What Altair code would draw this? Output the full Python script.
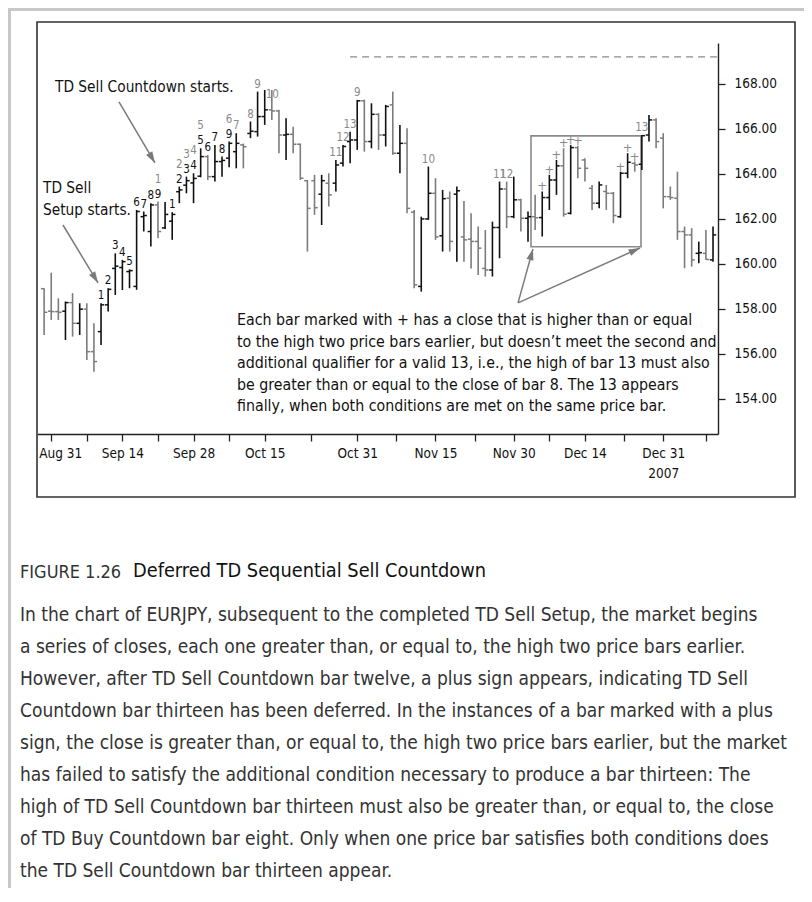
import math
import altair as alt
import pandas as pd

FONT = "Liberation Sans Narrow, Arial Narrow, DejaVu Sans Condensed, sans-serif"

# ---------------- data (EURJPY daily bars, index 0 = Aug 30 2007) ----------------
opens = [158.90, 157.90, 157.88, 157.90, 158.28, 157.36, 157.99, 156.10, 156.99, 158.18,
         159.80, 159.84, 159.66, 159.00, 162.10, 161.44, 162.62, 161.60, 161.90, 163.21,
         163.50, 163.60, 163.90, 164.77, 163.88, 164.55, 164.70, 164.99, 165.29, 165.80,
         165.88, 166.55, 166.85, 166.80, 165.73, 165.76, 165.32, 163.70, 163.70, 163.10,
         163.59, 163.59, 164.48, 165.44, 165.51, 167.25, 165.44, 166.65, 165.73, 167.07,
         164.92, 165.36, 162.30, 159.00, 162.00, 163.14, 161.25, 162.92, 163.10, 161.20,
         161.10, 161.00, 159.80, 159.73, 161.62, 163.33, 162.10, 162.85, 162.03, 162.10,
         162.06, 162.95, 163.73, 164.36, 162.25, 165.17, 164.62, 163.36, 162.70, 163.22,
         163.14, 162.10, 164.03, 164.47, 164.43, 165.73, 166.40, 165.59, 162.99, 162.92,
         161.44, 161.29, 160.47, 160.47, 160.18]
highs = [158.92, 159.61, 158.47, 158.33, 158.70, 158.25, 158.25, 157.36, 158.25, 158.92,
         160.47, 160.18, 159.76, 162.40, 162.33, 162.70, 162.77, 162.75, 162.30, 163.44,
         163.88, 164.03, 165.14, 164.84, 165.29, 164.77, 165.44, 165.81, 165.35, 166.33,
         167.66, 167.73, 167.73, 166.85, 166.47, 166.10, 165.35, 163.73, 163.96, 163.96,
         164.03, 164.62, 165.29, 165.88, 167.29, 167.30, 167.14, 166.70, 167.07, 167.66,
         166.18, 166.03, 162.40, 162.10, 164.33, 163.81, 163.29, 163.22, 163.44, 162.80,
         162.25, 161.66, 161.51, 161.88, 163.66, 163.66, 163.88, 162.90, 162.33, 163.07,
         163.22, 163.96, 164.62, 165.14, 165.29, 165.25, 164.70, 163.51, 163.66, 163.51,
         163.20, 164.10, 164.92, 164.55, 165.73, 166.62, 166.47, 165.81, 163.44, 164.10,
         161.66, 161.59, 160.99, 161.51, 161.66]
lows = [156.84, 157.51, 157.51, 156.62, 156.77, 156.84, 155.73, 155.21, 156.40, 157.88,
        158.62, 158.84, 158.92, 158.85, 161.44, 160.77, 161.14, 161.55, 161.07, 162.70,
        163.14, 162.70, 163.85, 163.73, 163.66, 163.88, 164.30, 164.25, 164.25, 165.59,
        165.66, 166.18, 166.40, 164.92, 164.62, 164.92, 163.73, 160.55, 162.18, 161.73,
        162.55, 163.22, 164.33, 164.47, 165.07, 164.99, 165.14, 165.07, 165.22, 164.85,
        164.03, 162.25, 158.92, 158.77, 161.96, 161.07, 160.55, 160.55, 160.10, 160.10,
        159.80, 159.51, 159.44, 159.44, 160.25, 161.59, 162.03, 161.44, 160.99, 161.51,
        161.22, 162.40, 163.07, 162.10, 162.20, 163.81, 163.66, 162.40, 162.47, 162.40,
        161.81, 162.05, 163.81, 164.10, 164.18, 165.44, 165.14, 162.47, 162.85, 161.07,
        159.81, 159.88, 160.03, 160.18, 160.10]
closes = [157.85, 157.88, 157.85, 158.28, 157.36, 157.99, 156.10, 155.66, 158.18, 158.87,
          159.90, 160.10, 159.70, 162.33, 162.15, 162.62, 161.44, 162.20, 162.20, 163.29,
          163.70, 163.80, 164.77, 163.88, 164.55, 164.60, 165.36, 165.36, 165.21, 165.90,
          166.55, 166.85, 166.80, 165.73, 165.76, 165.32, 163.81, 162.47, 162.50, 163.70,
          163.07, 164.40, 165.22, 165.51, 167.25, 165.44, 166.65, 165.73, 167.00, 164.92,
          165.36, 162.47, 159.07, 162.00, 163.14, 161.20, 162.90, 161.00, 163.25, 161.07,
          161.00, 160.70, 159.73, 161.62, 163.33, 162.10, 162.85, 162.03, 162.10, 162.05,
          162.95, 163.73, 164.36, 162.21, 165.17, 164.25, 164.25, 162.70, 163.51, 163.14,
          162.15, 164.03, 164.52, 164.40, 165.70, 166.40, 165.44, 162.99, 162.95, 161.44,
          161.29, 160.18, 160.50, 160.20, 161.29]

# x-axis ticks (bar index) and their labels ("" = minor tick)
tick_idx = [1, 6, 11, 16, 21, 26, 31, 37.5, 44, 49.5, 55, 60.5, 66, 71, 76, 81.5, 87, 93]
tick_lbl = ["Aug 31", "", "Sep 14", "", "Sep 28", "", "Oct 15", "", "Oct 31", "",
            "Nov 15", "", "Nov 30", "", "Dec 14", "", "Dec 31|2007", ""]
y_ticks = [154, 156, 158, 160, 162, 164, 166, 168]

# TD Sell Setup counts (black)
setup_idx = [8, 9, 10, 11, 12, 13, 14, 15, 16, 18, 19, 20, 21, 22, 23, 24, 25, 26]
setup_txt = ["1", "2", "3", "4", "5", "6", "7", "8", "9",
             "1", "2", "3", "4", "5", "6", "7", "8", "9"]
# TD Sell Countdown counts (grey); level 1 = stacked above a setup number, 2 = beside the high
cd_idx = [16, 19, 20, 21, 22, 26, 27, 29, 30, 31, 41, 42, 43, 44, 54, 64, 65, 84]
cd_txt = ["1", "2", "3", "4", "5", "6", "7", "8", "9", "10",
          "11", "12", "13", "9", "10", "11", "12", "13"]
cd_level = [1, 1, 1, 1, 1, 1, 0, 0, 0, 2, 0, 0, 0, 0, 0, 0, 0, 0]
# deferred-13 bars (+)
plus_idx = [70, 71, 72, 73, 74, 75, 81, 82, 83]

# annotations in data units (bar index, price)
note_texts = [("TD Sell Countdown starts.", 1.53, 167.87),
              ("TD Sell", -0.16, 163.38),
              ("Setup starts.", -0.16, 162.40)]
arrows = [(10.52, 167.20, 15.58, 164.49),
          (2.65, 161.73, 7.57, 159.16),
          (66.6, 158.27, 68.7, 160.67),
          (66.6, 158.27, 83.74, 160.71)]
box = (68.42, 83.88, 160.76, 165.69)
dash_line = (43.0, 94.7, 169.2)
para_lines = ["Each bar marked with + has a close that is higher than or equal",
              "to the high two price bars earlier, but doesn\u2019t meet the second and",
              "additional qualifier for a valid 13, i.e., the high of bar 13 must also",
              "be greater than or equal to the close of bar 8. The 13 appears",
              "finally, when both conditions are met on the same price bar."]
para_x = 27.1
para_y = [157.51, 156.53, 155.60, 154.62, 153.69]

caption_lines = [
    "In the chart of EURJPY, subsequent to the completed TD Sell Setup, the market begins",
    "a series of closes, each one greater than, or equal to, the high two price bars earlier.",
    "However, after TD Sell Countdown bar twelve, a plus sign appears, indicating TD Sell",
    "Countdown bar thirteen has been deferred. In the instances of a bar marked with a plus",
    "sign, the close is greater than, or equal to, the high two price bars earlier, but the market",
    "has failed to satisfy the additional condition necessary to produce a bar thirteen: The",
    "high of TD Sell Countdown bar thirteen must also be greater than, or equal to, the close",
    "of TD Buy Countdown bar eight. Only when one price bar satisfies both conditions does",
    "the TD Sell Countdown bar thirteen appear.",
]

# ---------------- geometry ----------------
W, H = 681, 391
XDOM = [-1.0, 94.7]
YDOM = [152.44, 169.82]
SX = W / (XDOM[1] - XDOM[0])
SY = H / (YDOM[1] - YDOM[0])

parts = []
for v, t in zip(tick_idx, tick_lbl):
    if t:
        if "|" in t:
            a, b = t.split("|")
            parts.append(f"datum.value == {v} ? ['{a}', '{b}']")
        else:
            parts.append(f"datum.value == {v} ? '{t}'")
label_expr = " : ".join(parts) + " : ''"

xs = alt.Scale(domain=XDOM, nice=False, zero=False)
ys = alt.Scale(domain=YDOM, nice=False, zero=False)
x_axis = alt.Axis(values=tick_idx, labelExpr=label_expr, title=None, grid=False,
                  tickSize=7, tickWidth=1.3, tickColor="#222", domainColor="#222",
                  domainWidth=1.4, labelFont=FONT, labelFontSize=13.5, labelColor="#111",
                  labelPadding=5, labelOverlap=False, labelFlush=False, labelBound=False,
                  labelLineHeight=20,
                  labelOffset={"condition": {"test": f"datum.value == {tick_idx[0]}", "value": 9},
                               "value": 0})
y_axis = alt.Axis(orient="right", values=y_ticks, format=".2f", title=None, grid=False,
                  tickSize=7, tickWidth=1.3, tickColor="#222", domainColor="#222",
                  domainWidth=1.4, labelFont=FONT, labelFontSize=13.5, labelColor="#111",
                  labelPadding=9, labelOverlap=False)


def X(field):
    return alt.X(field, type="quantitative", scale=xs, axis=x_axis)


def Y(field):
    return alt.Y(field, type="quantitative", scale=ys, axis=y_axis)


bars = pd.DataFrame({"i": list(range(len(opens))), "o": opens, "h": highs,
                     "l": lows, "c": closes})
bars["dir"] = ["up" if c >= o else "down" for o, c in zip(opens, closes)]
col = alt.Color("dir:N", scale=alt.Scale(domain=["up", "down"], range=["#111111", "#7c7c7c"]),
                legend=None)

base = alt.Chart(bars)
hl = base.mark_rule(strokeWidth=1.6).encode(x=X("i"), y=Y("l"), y2="h:Q", color=col)
op = base.transform_calculate(i0="datum.i - 0.45").mark_rule(strokeWidth=1.5).encode(
    x=X("i0"), x2="i:Q", y=Y("o"), color=col)
cl = base.transform_calculate(i1="datum.i + 0.45").mark_rule(strokeWidth=1.5).encode(
    x=X("i"), x2="i1:Q", y=Y("c"), color=col)

setup_df = pd.DataFrame({"i": setup_idx, "t": setup_txt, "y": [highs[k] for k in setup_idx]})
cd_df = pd.DataFrame({"i": cd_idx, "t": cd_txt, "lv": cd_level, "y": [highs[k] for k in cd_idx]})
plus_df = pd.DataFrame({"i": plus_idx, "t": ["+"] * len(plus_idx), "y": [highs[k] for k in plus_idx]})

LBL = 11.5
setup_lbl = alt.Chart(setup_df).mark_text(font=FONT, fontSize=LBL, color="#111", baseline="alphabetic",
                                          dy=-4).encode(x=X("i"), y=Y("y"), text="t:N")
cd0 = alt.Chart(cd_df).transform_filter("datum.lv == 0").mark_text(
    font=FONT, fontSize=LBL, color="#8a8a8a", baseline="alphabetic", dy=-4).encode(
    x=X("i"), y=Y("y"), text="t:N")
cd1 = alt.Chart(cd_df).transform_filter("datum.lv == 1").mark_text(
    font=FONT, fontSize=LBL, color="#8a8a8a", baseline="alphabetic", dy=-19).encode(
    x=X("i"), y=Y("y"), text="t:N")
cd2 = alt.Chart(cd_df).transform_filter("datum.lv == 2").mark_text(
    font=FONT, fontSize=LBL, color="#8a8a8a", baseline="alphabetic", align="left", dx=1, dy=8).encode(
    x=X("i"), y=Y("y"), text="t:N")
plus = alt.Chart(plus_df).mark_text(font=FONT, fontSize=13, color="#8a8a8a", baseline="alphabetic",
                                    dy=-1).encode(x=X("i"), y=Y("y"), text="t:N")

notes_df = pd.DataFrame(note_texts, columns=["t", "x", "y"])
notes = alt.Chart(notes_df).mark_text(font=FONT, fontSize=15.3, color="#111", align="left",
                                      baseline="middle").encode(x=X("x"), y=Y("y"), text="t:N")

para_df = pd.DataFrame({"t": para_lines, "x": [para_x] * len(para_lines), "y": para_y})
para = alt.Chart(para_df).mark_text(font=FONT, fontSize=15.8, color="#111", align="left",
                                    baseline="middle").encode(x=X("x"), y=Y("y"), text="t:N")

arr_rows = []
for x1, y1, x2, y2 in arrows:
    dxp = (x2 - x1) * SX
    dyp = -(y2 - y1) * SY
    ang = math.degrees(math.atan2(dxp, -dyp)) % 360
    arr_rows.append({"x1": x1, "y1": y1, "x2": x2, "y2": y2, "ang": ang})
arr_df = pd.DataFrame(arr_rows)
arr_lines = alt.Chart(arr_df).mark_rule(strokeWidth=1.5, color="#7a7a7a").encode(
    x=X("x1"), y=Y("y1"), x2="x2:Q", y2="y2:Q")
arr_heads = alt.Chart(arr_df).mark_point(
    shape="M0,0L-0.75,2.4L0.75,2.4Z", filled=True, size=90, opacity=1, color="#7a7a7a",
    strokeWidth=0).encode(x=X("x2"), y=Y("y2"), angle=alt.Angle("ang:Q", scale=None))

box_df = pd.DataFrame([{"x1": box[0], "x2": box[1], "y1": box[2], "y2": box[3]}])
box_mark = alt.Chart(box_df).mark_rect(fill=None, stroke="#8a8a8a", strokeWidth=1.6).encode(
    x=X("x1"), x2="x2:Q", y=Y("y1"), y2="y2:Q")

dash_df = pd.DataFrame([{"x1": dash_line[0], "x2": dash_line[1], "y": dash_line[2]}])
dash = alt.Chart(dash_df).mark_rule(strokeWidth=1.2, color="#8a8a8a", strokeDash=[7, 5]).encode(
    x=X("x1"), x2="x2:Q", y=Y("y"))

# ---------------- page furniture (pixel layout relative to plot origin) ----------------
one = pd.DataFrame({"a": [0]})
frame = alt.Chart(one).mark_rect(fill=None, stroke="#333", strokeWidth=1.6).encode(
    x=alt.value(0), x2=alt.value(758), y=alt.value(-21), y2=alt.value(454))
border_top = alt.Chart(one).mark_rect(color="#c8c8c8").encode(
    x=alt.value(-29), x2=alt.value(767), y=alt.value(-35), y2=alt.value(-32))
border_left = alt.Chart(one).mark_rect(color="#c8c8c8").encode(
    x=alt.value(-29), x2=alt.value(-26), y=alt.value(-35), y2=alt.value(845))

fig_no = alt.Chart(one).mark_text(text="FIGURE 1.26", font=FONT, fontSize=18, color="#333",
                                  align="left", baseline="middle").encode(
    x=alt.value(-17), y=alt.value(530))
fig_title = alt.Chart(one).mark_text(text="Deferred TD Sequential Sell Countdown", font=FONT,
                                     fontSize=19.8, color="#111", align="left",
                                     baseline="middle").encode(x=alt.value(96), y=alt.value(528))
cap_df = pd.DataFrame({"t": caption_lines, "k": list(range(len(caption_lines)))})
caption = alt.Chart(cap_df).transform_calculate(py="572 + 32 * datum.k").mark_text(
    font=FONT, fontSize=19, color="#333", align="left", baseline="middle").encode(
    x=alt.value(-17), y=alt.Y("py:Q", scale=None), text="t:N")

chart = alt.layer(
    border_top, border_left, frame,
    dash, box_mark, arr_lines, arr_heads,
    hl, op, cl,
    setup_lbl, cd0, cd1, cd2, plus,
    notes, para,
    fig_no, fig_title, caption,
).properties(
    width=W, height=H,
    background="white",
    autosize=alt.AutoSizeParams(type="none"),
    padding={"left": 29, "top": 35, "right": 86, "bottom": 454},
).configure_view(stroke=None)

chart.save("out.html", embed_options={"renderer": "svg", "actions": False})
